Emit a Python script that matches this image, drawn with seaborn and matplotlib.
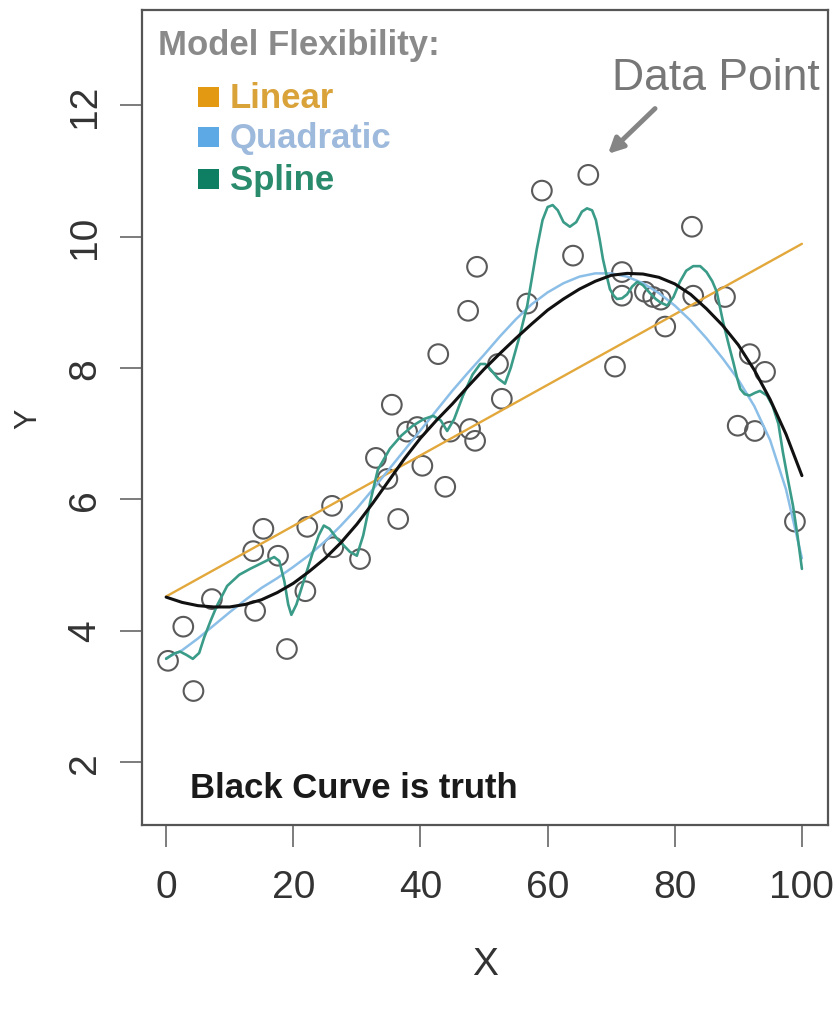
import matplotlib
matplotlib.use("Agg")
import matplotlib.pyplot as plt
from matplotlib.patches import Rectangle
import seaborn as sns

# Observed data points
obs_x = [0.3, 2.7, 4.3, 7.2, 13.7, 15.3, 14.0, 17.6, 19.0, 21.9, 22.2, 26.1, 26.3,
         30.5, 33.0, 34.8, 35.5, 36.5, 37.9, 39.5, 40.3, 42.8, 43.9, 44.7, 47.5,
         47.8, 48.6, 48.9, 52.2, 52.8, 56.8, 59.1, 64.0, 66.4, 70.6, 71.7, 71.7,
         75.3, 76.6, 77.8, 78.5, 82.7, 82.9, 87.9, 89.9, 91.8, 92.6, 94.2, 98.9]
obs_y = [3.54, 4.06, 3.08, 4.48, 5.21, 5.55, 4.30, 5.14, 3.72, 4.60, 5.58, 5.90, 5.27,
         5.09, 6.63, 6.31, 7.44, 5.70, 7.03, 7.10, 6.51, 8.21, 6.19, 7.03, 8.87,
         7.07, 6.89, 9.54, 8.06, 7.53, 8.98, 10.70, 9.71, 10.94, 8.02, 9.46, 9.10,
         9.16, 9.08, 9.04, 8.63, 10.15, 9.10, 9.08, 7.12, 8.21, 7.04, 7.94, 5.66]

# True regression function
truth_x = [0, 2.5, 5, 7.5, 10, 12.5, 15, 17.5, 20, 22.5, 25, 27.5, 30, 32.5, 35, 37.5,
           40, 42.5, 45, 47.5, 50, 52.5, 55, 57.5, 60, 62.5, 65, 67.5, 70, 72.5, 75,
           77.5, 80, 82.5, 85, 87.5, 90, 92.5, 95, 97.5, 100]
truth_y = [4.51, 4.43, 4.38, 4.36, 4.36, 4.40, 4.47, 4.58, 4.72, 4.90, 5.10, 5.34, 5.62,
           5.94, 6.28, 6.62, 6.93, 7.20, 7.45, 7.72, 7.98, 8.22, 8.45, 8.67, 8.88, 9.05,
           9.20, 9.32, 9.41, 9.44, 9.43, 9.38, 9.28, 9.12, 8.90, 8.65, 8.35, 7.97, 7.52,
           6.99, 6.36]

# Linear fit
linear_x = [0, 100]
linear_y = [4.52, 9.89]

# Quadratic fit
quad_x = truth_x
quad_y = [3.58, 3.70, 3.88, 4.08, 4.28, 4.47, 4.65, 4.80, 4.97, 5.15, 5.36, 5.60, 5.86,
          6.15, 6.45, 6.75, 7.05, 7.35, 7.65, 7.93, 8.20, 8.48, 8.74, 8.97, 9.15, 9.29,
          9.39, 9.44, 9.44, 9.39, 9.29, 9.14, 8.95, 8.72, 8.45, 8.15, 7.82, 7.42, 6.90,
          6.15, 5.10]

# Smoothing spline fit
spline_x = [0, 1.2, 2.2, 3.2, 4.2, 5.2, 6.0, 7.0, 8.0, 9.6, 11.5, 13.2, 15.9, 17.0,
            17.8, 18.6, 19.2, 19.7, 20.5, 21.4, 23.1, 24.0, 24.8, 25.7, 26.9, 28.9,
            30.0, 31.0, 32.1, 33.3, 35.2, 37.0, 38.8, 40.5, 42.0, 43.2, 44.2, 45.3,
            46.7, 48.2, 49.4, 50.2, 51.0, 52.2, 53.3, 54.2, 55.5, 56.8, 58.3, 59.2,
            60.0, 60.8, 61.6, 62.5, 63.5, 64.5, 65.4, 66.2, 67.0, 67.6, 68.2, 68.7,
            69.3, 69.8, 70.4, 70.9, 71.7, 72.5, 73.3, 74.1, 75.0, 76.0, 77.0, 77.7,
            78.8, 79.8, 80.8, 81.8, 82.9, 84.0, 85.0, 85.9, 86.6, 87.6, 88.5, 89.2,
            89.8, 90.3, 91.0, 91.8, 92.6, 93.4, 94.5, 95.4, 96.3, 97.0, 97.8, 98.6,
            99.3, 100]
spline_y = [3.57, 3.65, 3.68, 3.63, 3.57, 3.66, 3.90, 4.15, 4.38, 4.68, 4.85, 4.94, 5.07,
            5.12, 5.06, 4.75, 4.40, 4.24, 4.40, 4.68, 5.20, 5.45, 5.60, 5.55, 5.40, 5.20,
            5.14, 5.45, 5.96, 6.45, 6.77, 6.97, 7.12, 7.22, 7.27, 7.20, 7.04, 7.22, 7.58,
            7.90, 8.06, 8.06, 7.98, 7.84, 7.76, 8.00, 8.45, 8.95, 9.81, 10.25, 10.45,
            10.48, 10.40, 10.22, 10.15, 10.22, 10.38, 10.43, 10.40, 10.25, 9.95, 9.66,
            9.40, 9.20, 9.10, 9.05, 9.06, 9.12, 9.24, 9.31, 9.26, 9.15, 9.05, 9.00, 8.95,
            9.08, 9.31, 9.48, 9.55, 9.55, 9.46, 9.32, 9.16, 8.70, 8.35, 8.09, 7.85, 7.68,
            7.60, 7.58, 7.62, 7.65, 7.58, 7.42, 7.15, 6.72, 6.30, 5.90, 5.45, 4.94]

legend_labels = ["Linear", "Quadratic", "Spline"]
legend_box_colors = ["#E39A12", "#5DA9E6", "#0E7F62"]
legend_text_colors = ["#D9A33A", "#9DB9DC", "#2A8A6C"]
line_colors = {"linear": "#E2A83C", "quad": "#8CBFE8", "spline": "#3A9C88", "truth": "#111111"}
x_ticks = [0, 20, 40, 60, 80, 100]
y_ticks = [2, 4, 6, 8, 10, 12]

sns.set_style("white")
plt.rcParams["font.family"] = ["Liberation Sans", "DejaVu Sans"]

fig = plt.figure(figsize=(8.4, 10.12), dpi=100)
ax = fig.add_axes([0.169, 0.1838, 0.8167, 0.8053])

sns.scatterplot(x=obs_x, y=obs_y, ax=ax, marker="o", s=200, facecolors="none",
                edgecolor="#5a5a5a", linewidth=1.5, zorder=2)
sns.lineplot(x=linear_x, y=linear_y, ax=ax, color=line_colors["linear"], lw=1.7,
             estimator=None, sort=False, zorder=3)
sns.lineplot(x=quad_x, y=quad_y, ax=ax, color=line_colors["quad"], lw=1.8,
             estimator=None, sort=False, zorder=3)
sns.lineplot(x=spline_x, y=spline_y, ax=ax, color=line_colors["spline"], lw=1.9,
             estimator=None, sort=False, zorder=4)
sns.lineplot(x=truth_x, y=truth_y, ax=ax, color=line_colors["truth"], lw=2.2,
             estimator=None, sort=False, zorder=5)

ax.set_xlim(-3.8, 104.1)
ax.set_ylim(1.04, 13.45)
ax.set_xticks(x_ticks)
ax.set_yticks(y_ticks)
ax.set_xticklabels([str(v) for v in x_ticks])
ax.set_yticklabels([str(v) for v in y_ticks], rotation=90, va="center")

for side in ["top", "right", "bottom", "left"]:
    ax.spines[side].set_color("#555555")
    ax.spines[side].set_linewidth(1.6)

ax.tick_params(axis="x", direction="out", length=16, width=1.2, color="#666666",
               labelsize=28, labelcolor="#333333", pad=16, bottom=True)
ax.tick_params(axis="y", direction="out", length=16, width=1.2, color="#666666",
               labelsize=28, labelcolor="#333333", pad=12, left=True)

ax.set_xlabel("X", fontsize=28, color="#333333", va="center")
ax.set_ylabel("Y", fontsize=22, color="#333333", va="center")
ax.xaxis.set_label_coords(0.5, -0.171)
ax.yaxis.set_label_coords(-0.166, 0.5)

# Legend block
ax.text(0.023, 0.946, "Model Flexibility:", transform=ax.transAxes, fontsize=25,
        fontweight="bold", color="#8a8a8a", ha="left", va="baseline")
legend_baselines = [0.881, 0.832, 0.780]
for lab, bc, tc, yb in zip(legend_labels, legend_box_colors, legend_text_colors, legend_baselines):
    ax.add_patch(Rectangle((0.0816, yb), 0.031, 0.0245, transform=ax.transAxes,
                           facecolor=bc, edgecolor="none", zorder=6))
    ax.text(0.128, yb, lab, transform=ax.transAxes, fontsize=25, fontweight="bold",
            color=tc, ha="left", va="baseline")

ax.text(0.070, 0.034, "Black Curve is truth", transform=ax.transAxes, fontsize=25,
        fontweight="bold", color="#1a1a1a", ha="left", va="baseline")

# Pointer to an observation
ax.annotate("", xy=(69.5, 11.26), xytext=(76.9, 11.95),
            arrowprops=dict(arrowstyle="-|>,head_length=0.9,head_width=0.45",
                            color="#858585", lw=3.5, shrinkA=0, shrinkB=0))
ax.text(0.685, 0.917, "Data Point", transform=ax.transAxes, fontsize=32,
        color="#777777", ha="left", va="center")

fig.savefig("out.png", dpi=100)
